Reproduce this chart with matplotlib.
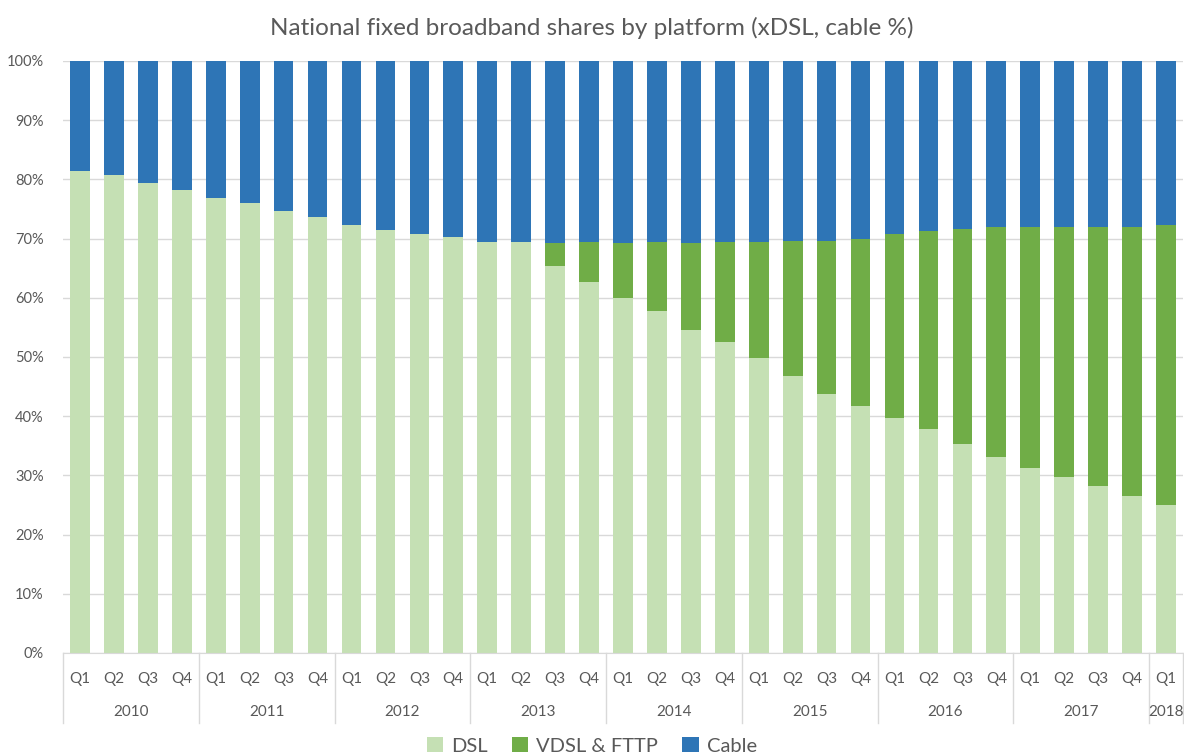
import matplotlib.pyplot as plt
import numpy as np
from matplotlib.transforms import blended_transform_factory

plt.rcParams['font.family'] = ['Lato', 'DejaVu Sans']

years = ["2010", "2011", "2012", "2013", "2014", "2015", "2016", "2017", "2018"]
quarters = ["Q1", "Q2", "Q3", "Q4"] * 8 + ["Q1"]

# DSL share (%)
dsl = [81.5, 80.8, 79.4, 78.2, 76.9, 76.0, 74.6, 73.6,
       72.3, 71.4, 70.7, 70.2, 69.5, 69.5, 65.4, 62.7,
       60.0, 57.8, 54.6, 52.5, 49.9, 46.8, 43.7, 41.7,
       39.7, 37.8, 35.3, 33.1, 31.3, 29.8, 28.2, 26.5, 25.0]
# DSL + VDSL & FTTP (%), top of green segment
dsl_vdsl = [81.5, 80.8, 79.4, 78.2, 76.9, 76.0, 74.6, 73.6,
            72.3, 71.4, 70.7, 70.2, 69.5, 69.5, 69.2, 69.4,
            69.2, 69.4, 69.2, 69.4, 69.5, 69.6, 69.6, 70.0,
            70.7, 71.3, 71.6, 71.9, 72.0, 72.0, 72.0, 72.0, 72.3]

dsl = np.array(dsl)
vdsl = np.array(dsl_vdsl) - dsl
cable = 100 - dsl - vdsl

fig = plt.figure(figsize=(11.84, 7.56), dpi=100)
ax = fig.add_axes([63 / 1184, 1 - 653 / 756, 1120 / 1184, 592 / 756])

x = np.arange(len(dsl))
w = 0.58
ax.bar(x, dsl, w, color="#C5E0B4", label="DSL", zorder=2)
ax.bar(x, vdsl, w, bottom=dsl, color="#70AD47", label="VDSL & FTTP", zorder=2)
ax.bar(x, cable, w, bottom=dsl + vdsl, color="#2E75B6", label="Cable", zorder=2)

ax.set_xlim(-0.5, len(dsl) - 0.5)
ax.set_ylim(0, 100)
ax.set_yticks(range(0, 101, 10))
ax.set_yticklabels([f"{v}%" for v in range(0, 101, 10)], color="#595959", fontsize=10.5)
ax.yaxis.grid(True, color="#D9D9D9", linewidth=1, zorder=0)
ax.tick_params(axis="y", length=0, pad=14)
ax.set_xticks(x)
ax.set_xticklabels(quarters, color="#595959", fontsize=11)
ax.tick_params(axis="x", length=0, pad=14)
for s in ["top", "right", "left"]:
    ax.spines[s].set_visible(False)
ax.spines["bottom"].set_color("#D9D9D9")

# year labels and separators
tr = blended_transform_factory(ax.transData, ax.transAxes)
for i, yr in enumerate(years):
    start = i * 4 - 0.5
    end = min(start + 4, len(dsl) - 0.5)
    ax.text((start + end) / 2, -0.1, yr, transform=tr, ha="center", va="center",
            color="#595959", fontsize=11)
    ax.plot([start, start], [0, -0.118], transform=tr, color="#D9D9D9",
            linewidth=1, clip_on=False)
ax.plot([len(dsl) - 0.5] * 2, [0, -0.118], transform=tr, color="#D9D9D9",
        linewidth=1, clip_on=False)

fig.suptitle("National fixed broadband shares by platform (xDSL, cable %)",
             y=0.978, fontsize=17.5, color="#595959")
fig.legend(loc="lower center", bbox_to_anchor=(0.5, -0.022), ncol=3, frameon=False,
           fontsize=14.5, handlelength=0.8, handleheight=0.8, handletextpad=0.4,
           columnspacing=1.2, labelcolor="#595959")

fig.savefig("out.png", dpi=100)
